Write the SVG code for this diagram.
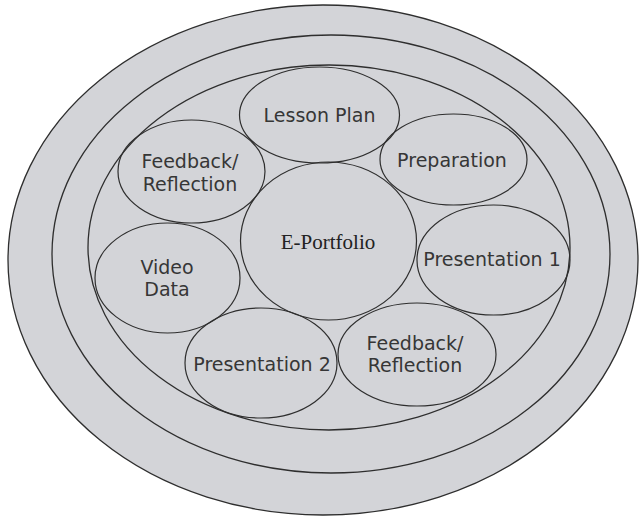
<svg xmlns="http://www.w3.org/2000/svg" width="640" height="518" viewBox="0 0 640 518">
<style>
.ring{fill:#d3d4d8;stroke:#2e2e2e;stroke-width:1.3}
.node{fill:none;stroke:#2e2e2e;stroke-width:1.2}
.lbl{font-family:"DejaVu Sans",Verdana,sans-serif;font-size:19px;fill:#363636;text-anchor:middle}
.core{font-family:"Liberation Serif","Times New Roman",serif;font-size:21px;fill:#222;text-anchor:middle}
</style>
<rect width="640" height="518" fill="#ffffff"/>
<g id="rings">
<ellipse class="ring" cx="323" cy="260" rx="315" ry="255"/>
<ellipse class="ring" cx="331" cy="254" rx="279" ry="219"/>
<ellipse class="ring" cx="329" cy="247.5" rx="241" ry="182.5"/>
</g>
<g id="connectors"></g>
<g id="lesson-plan">
<ellipse class="node" cx="319.5" cy="115" rx="80" ry="48"/>
<text class="lbl" x="319.5" y="122">Lesson Plan</text>
</g>
<g id="preparation">
<ellipse class="node" cx="453.5" cy="159.5" rx="73.5" ry="45.5"/>
<text class="lbl" x="452" y="167">Preparation</text>
</g>
<g id="presentation-1">
<ellipse class="node" cx="493.5" cy="260" rx="76.5" ry="55"/>
<text class="lbl" x="492" y="266">Presentation 1</text>
</g>
<g id="feedback-reflection-2">
<ellipse class="node" cx="417" cy="354.5" rx="79" ry="51.5"/>
<text class="lbl" x="415" y="350">Feedback/</text>
<text class="lbl" x="415" y="372">Reflection</text>
</g>
<g id="presentation-2">
<ellipse class="node" cx="261" cy="363" rx="76" ry="55"/>
<text class="lbl" x="262" y="371">Presentation 2</text>
</g>
<g id="video-data">
<ellipse class="node" cx="167.5" cy="278" rx="72.5" ry="55"/>
<text class="lbl" x="167" y="274">Video</text>
<text class="lbl" x="167" y="296">Data</text>
</g>
<g id="feedback-reflection-1">
<ellipse class="node" cx="191.5" cy="171.5" rx="73.5" ry="51.5"/>
<text class="lbl" x="190" y="168">Feedback/</text>
<text class="lbl" x="190" y="191">Reflection</text>
</g>
<g id="e-portfolio">
<ellipse class="node" cx="328.5" cy="241" rx="88" ry="79"/>
<text class="core" x="328" y="249">E-Portfolio</text>
</g>
</svg>
